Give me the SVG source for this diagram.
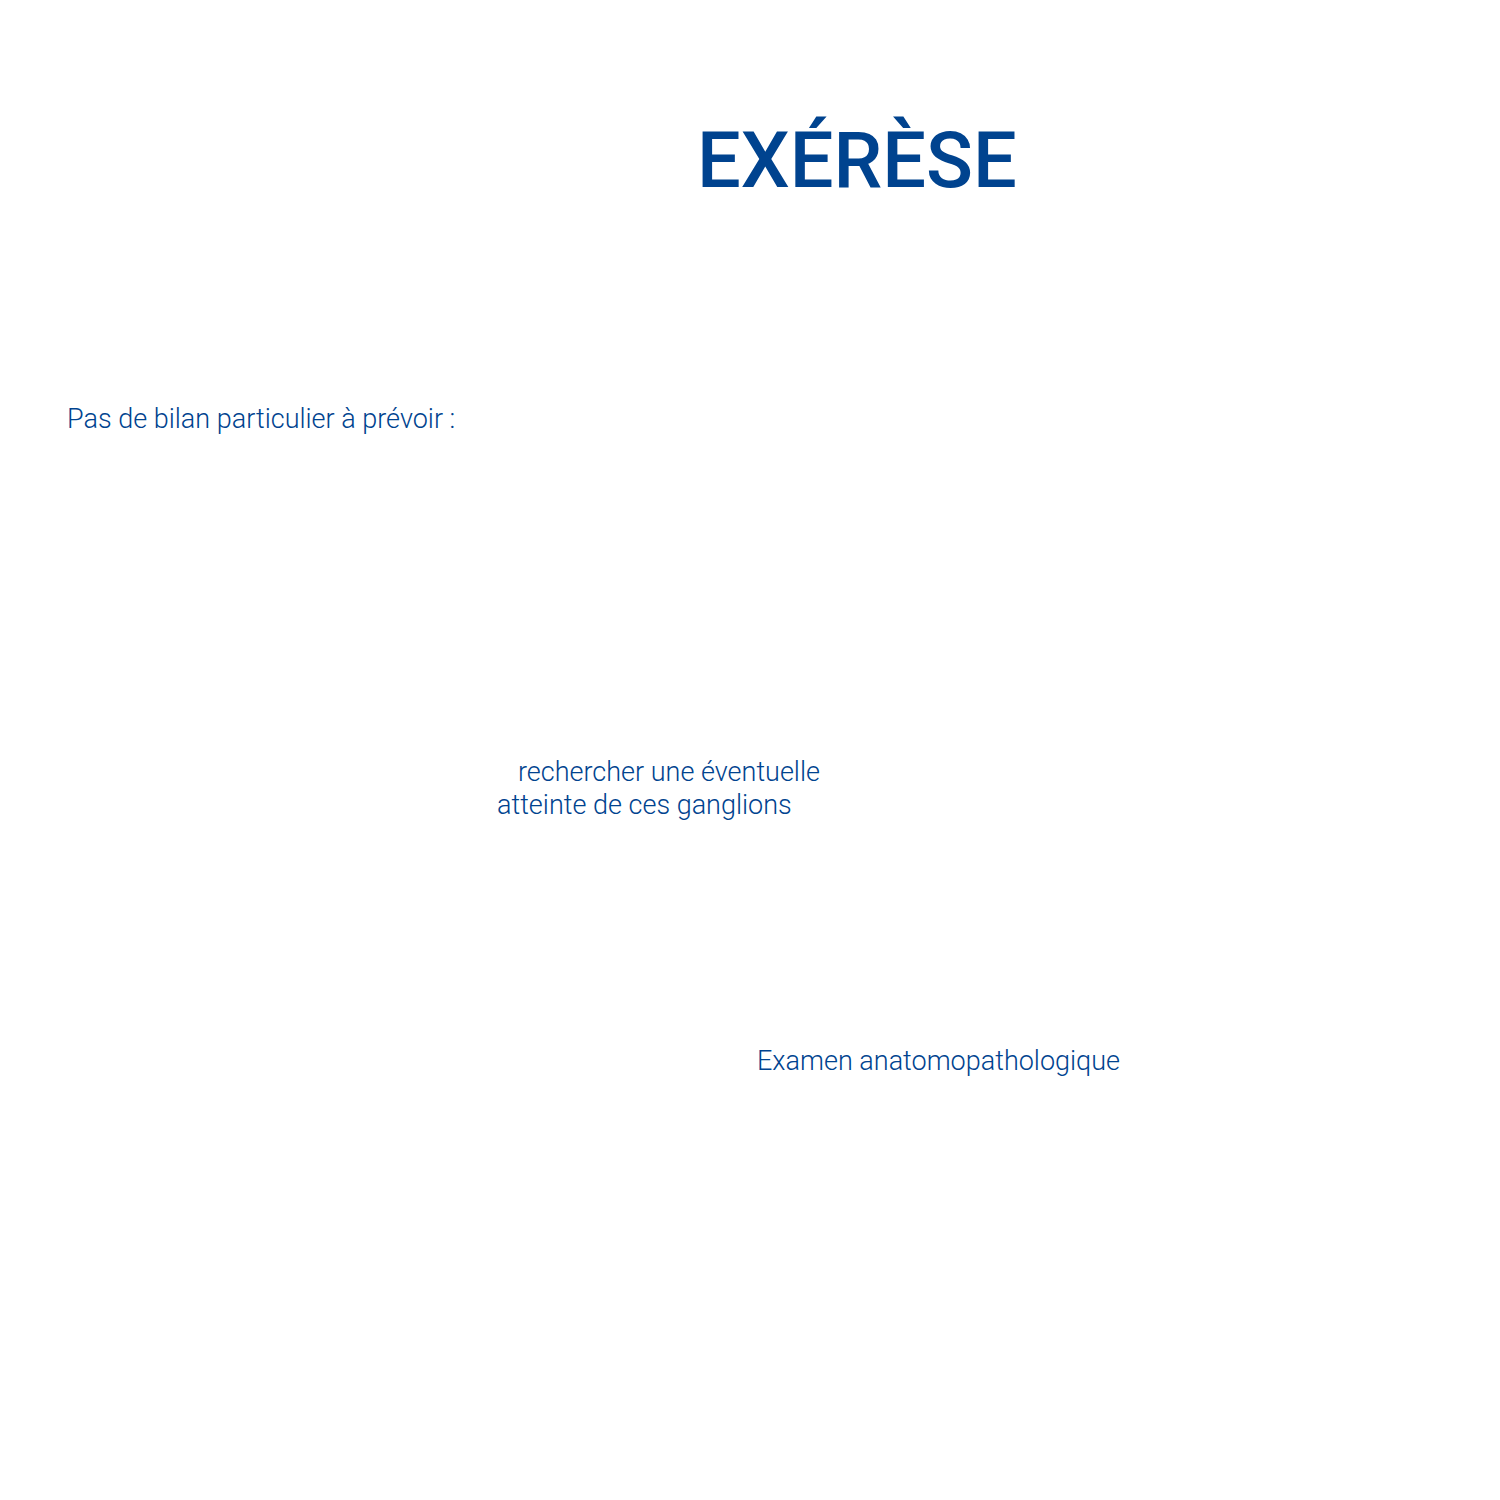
<svg xmlns="http://www.w3.org/2000/svg" width="1500" height="1500" viewBox="0 0 1500 1500">
<style>
.t{fill:#00438f;font-family:Roboto,"Liberation Sans",sans-serif;}
.b{font-size:27px;font-weight:300;}
.h{font-size:77.5px;font-weight:500;}
</style>
<rect width="1500" height="1500" fill="#ffffff"/>
<g id="title"><text class="t h" x="697" y="186.5">EXÉRÈSE</text></g>
<g id="bilan"><text class="t b" x="67" y="428">Pas de bilan particulier à prévoir :</text></g>
<g id="ganglions"><text class="t b" x="518" y="781">rechercher une éventuelle</text><text class="t b" x="497" y="814">atteinte de ces ganglions</text></g>
<g id="examen"><text class="t b" x="757" y="1070">Examen anatomopathologique</text></g>
<g id="connectors"></g>
</svg>
